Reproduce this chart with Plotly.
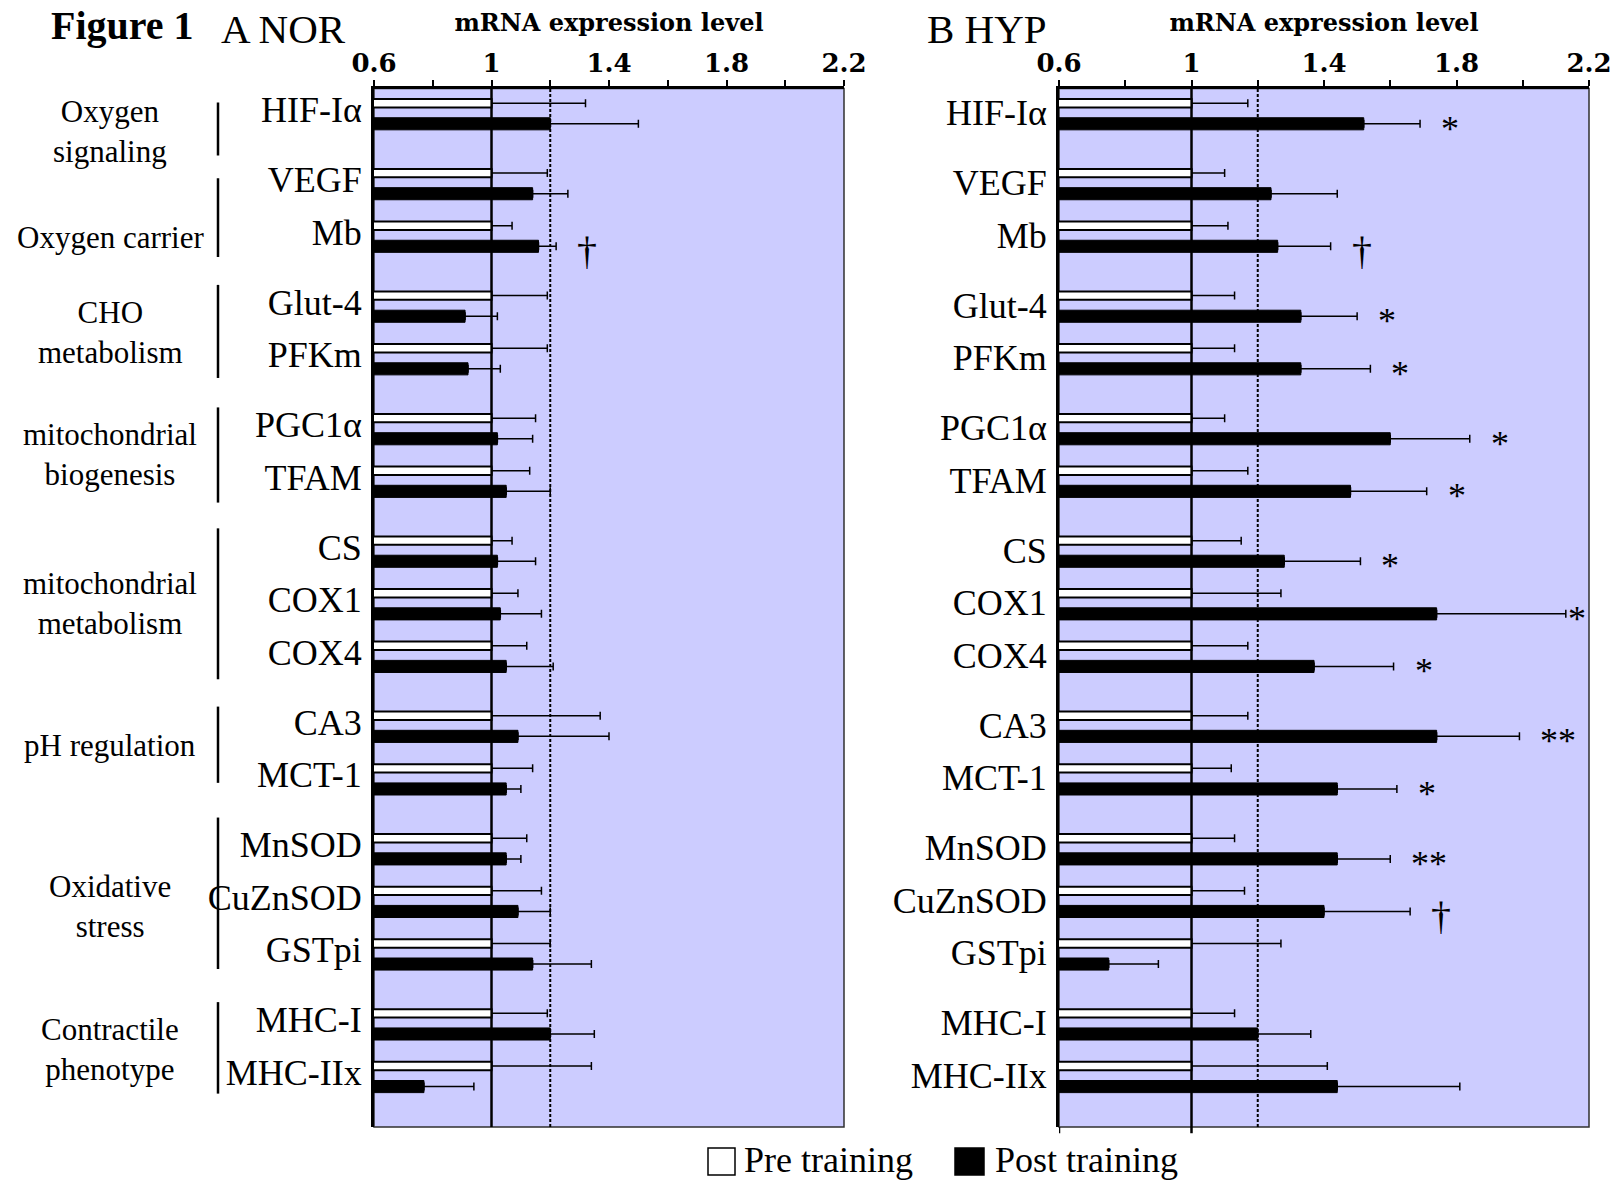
import plotly.graph_objects as go

# ---- data -------------------------------------------------------------
GENES = ["HIF-Iα", "VEGF", "Mb", "Glut-4", "PFKm", "PGC1α", "TFAM", "CS",
         "COX1", "COX4", "CA3", "MCT-1", "MnSOD", "CuZnSOD", "GSTpi",
         "MHC-I", "MHC-IIx"]
GROUP_NAMES = ["Oxygen<br>signaling", "Oxygen carrier", "CHO<br>metabolism",
               "mitochondrial<br>biogenesis", "mitochondrial<br>metabolism",
               "pH regulation", "Oxidative<br>stress", "Contractile<br>phenotype"]
GROUP_SIZES = [1, 2, 2, 2, 3, 2, 3, 2]

# Normoxic training (A NOR)
NOR_PRE = [1.00, 1.00, 1.00, 1.00, 1.00, 1.00, 1.00, 1.00, 1.00,
           1.00, 1.00, 1.00, 1.00, 1.00, 1.00, 1.00, 1.00]
NOR_PRE_SEM = [0.32, 0.19, 0.07, 0.19, 0.19, 0.15, 0.13, 0.07, 0.09,
               0.12, 0.37, 0.14, 0.12, 0.17, 0.20, 0.19, 0.34]
NOR_POST = [1.20, 1.14, 1.16, 0.91, 0.92, 1.02, 1.05, 1.02, 1.03,
            1.05, 1.09, 1.05, 1.05, 1.09, 1.14, 1.20, 0.77]
NOR_POST_SEM = [0.30, 0.12, 0.06, 0.11, 0.11, 0.12, 0.15, 0.13, 0.14,
                0.16, 0.31, 0.05, 0.05, 0.11, 0.20, 0.15, 0.17]
NOR_SIG = ["", "", "†", "", "", "", "", "", "", "", "", "", "", "", "", "", ""]

# Hypoxic training (B HYP)
HYP_PRE = [1.00, 1.00, 1.00, 1.00, 1.00, 1.00, 1.00, 1.00, 1.00,
           1.00, 1.00, 1.00, 1.00, 1.00, 1.00, 1.00, 1.00]
HYP_PRE_SEM = [0.17, 0.10, 0.11, 0.13, 0.13, 0.10, 0.17, 0.15, 0.27,
               0.17, 0.17, 0.12, 0.13, 0.16, 0.27, 0.13, 0.41]
HYP_POST = [1.52, 1.24, 1.26, 1.33, 1.33, 1.60, 1.48, 1.28, 1.74,
            1.37, 1.74, 1.44, 1.44, 1.40, 0.75, 1.20, 1.44]
HYP_POST_SEM = [0.17, 0.20, 0.16, 0.17, 0.21, 0.24, 0.23, 0.23, 0.39,
                0.24, 0.25, 0.18, 0.16, 0.26, 0.15, 0.16, 0.37]
HYP_SIG = ["*", "", "†", "*", "*", "*", "*", "*", "*", "*", "**", "*", "**",
           "†", "", "", ""]

X_TICKS = [0.6, 1.0, 1.4, 1.8, 2.2]
X_TICK_TEXT = ["0.6", "1", "1.4", "1.8", "2.2"]
X_RANGE = [0.6, 2.2]
REF_LINE = 1.0
DOT_LINE = 1.2

# ---- layout helpers ---------------------------------------------------
W, H = 1616, 1184
SERIF = "Liberation Serif, Times New Roman, serif"
BOLD_SERIF = "DejaVu Serif, serif"
LAVENDER = "#CCCCFF"

GROUP_GAP = 0.33          # extra space between gene groups (in slot units)
PAIR_OFF = 0.196          # offset of pre/post bars from the gene row

# bracket reach above the first / below the last row of each group, and a
# vertical nudge for each group caption (slot units)
BRACKET_REACH = [(0.21, 0.80), (0.10, 0.40), (0.40, 0.37), (0.40, 0.41),
                 (0.43, 0.44), (0.37, 0.08), (0.59, 0.29), (0.41, 0.33)]
CAPTION_NUDGE = [0.34, 0.53, 0.0, 0.0, 0.0, -0.13, 0.10, 0.0]

pos = []
group_rows = []
for g, n in enumerate(GROUP_SIZES):
    rows = []
    for _ in range(n):
        rows.append(len(pos) + GROUP_GAP * g)
        pos.append(rows[-1])
    group_rows.append(rows)

pre_y = [p - PAIR_OFF for p in pos]
post_y = [p + PAIR_OFF for p in pos]

Y_RANGE = [19.275, -0.475]
Y_DOMAIN = [1 - 1127 / H, 1 - 88.5 / H]
X_DOMAIN_A = [374 / W, 844 / W]
X_DOMAIN_B = [1059 / W, 1589 / W]

fig = go.Figure()


def add_panel(xa, ya, pre, pre_sem, post, post_sem):
    zeros = [0] * len(pre)
    fig.add_trace(go.Bar(
        x=pre, y=pre_y, orientation="h", width=0.16,
        marker=dict(color="white", line=dict(color="black", width=2)),
        error_x=dict(type="data", symmetric=False, array=pre_sem,
                     arrayminus=zeros, color="black", thickness=1.5, width=4),
        xaxis=xa, yaxis=ya, showlegend=False, hoverinfo="skip"))
    fig.add_trace(go.Bar(
        x=post, y=post_y, orientation="h", width=0.23,
        marker=dict(color="black", line=dict(color="black", width=1)),
        error_x=dict(type="data", symmetric=False, array=post_sem,
                     arrayminus=zeros, color="black", thickness=1.5, width=4),
        xaxis=xa, yaxis=ya, showlegend=False, hoverinfo="skip"))


add_panel("x", "y", NOR_PRE, NOR_PRE_SEM, NOR_POST, NOR_POST_SEM)
add_panel("x2", "y2", HYP_PRE, HYP_PRE_SEM, HYP_POST, HYP_POST_SEM)

xaxis_common = dict(
    range=X_RANGE, side="top", tickvals=X_TICKS, ticktext=X_TICK_TEXT,
    ticks="outside", ticklen=6, tickwidth=1.5, tickcolor="black",
    minor=dict(dtick=0.2, tick0=0.6, ticks="outside", ticklen=6,
               tickwidth=1.5, tickcolor="black"),
    showline=True, linewidth=3, linecolor="black", mirror=False,
    showgrid=False, zeroline=False, fixedrange=True, automargin=False,
    tickfont=dict(family=BOLD_SERIF, size=26, color="black", weight="bold"),
    ticklabelstandoff=-3,
    title=dict(text="mRNA expression level", standoff=10,
               font=dict(family=BOLD_SERIF, size=24, color="black",
                         weight="bold")),
)
yaxis_common = dict(
    range=Y_RANGE, domain=Y_DOMAIN, tickvals=pos, ticktext=GENES,
    ticks="", showline=True, linewidth=3, linecolor="black", mirror=False,
    showgrid=False, zeroline=False, fixedrange=True, automargin=False,
    tickfont=dict(family=SERIF, size=36, color="black"),
    ticklabelstandoff=2,
)

fig.update_layout(
    width=W, height=H, margin=dict(l=0, r=0, t=0, b=0),
    paper_bgcolor="white", plot_bgcolor=LAVENDER,
    barmode="overlay", showlegend=False,
    xaxis=dict(domain=X_DOMAIN_A, anchor="y", **xaxis_common),
    yaxis=dict(anchor="x", ticklabelshift=4, **yaxis_common),
    xaxis2=dict(domain=X_DOMAIN_B, anchor="y2", **xaxis_common),
    yaxis2=dict(anchor="x2", ticklabelshift=1, **yaxis_common),
)

shapes = []
annotations = []

for xa, ya in (("x", "y"), ("x2", "y2")):
    # thin frame on the right and bottom
    shapes.append(dict(type="rect", xref=f"{xa} domain", yref=f"{ya} domain",
                       x0=0, x1=1, y0=0, y1=1, layer="below",
                       line=dict(color="#303030", width=1.5)))
    shapes.append(dict(type="line", xref=xa, yref=f"{ya} domain",
                       x0=REF_LINE, x1=REF_LINE, y0=0, y1=1, layer="below",
                       line=dict(color="black", width=2.5)))
    shapes.append(dict(type="line", xref=xa, yref=f"{ya} domain",
                       x0=DOT_LINE, x1=DOT_LINE, y0=0, y1=1, layer="below",
                       line=dict(color="black", width=2, dash="3px,2px")))

# short stubs below the hypoxia panel
for xv in (X_RANGE[0], REF_LINE):
    shapes.append(dict(type="line", xref="x2", yref="y2 domain",
                       x0=xv, x1=xv, y0=-0.006, y1=0,
                       line=dict(color="black", width=2.5)))


def add_marks(xa, ya, post, post_sem, sig):
    for i, s in enumerate(sig):
        if not s:
            continue
        end = post[i] + post_sem[i]
        dagger = s == "†"
        ann = dict(xref=xa, yref=ya, y=post_y[i], text=s, showarrow=False,
                   yanchor="middle",
                   font=dict(family=SERIF, size=40 if dagger else 36,
                             color="black"),
                   yshift=-4 if dagger else -5)
        if end + 0.07 > X_RANGE[1] - 0.04:
            ann.update(x=X_RANGE[1], xanchor="right", xshift=-1)
        else:
            ann.update(x=end, xanchor="left", xshift=19)
        annotations.append(ann)


add_marks("x", "y", NOR_POST, NOR_POST_SEM, NOR_SIG)
add_marks("x2", "y2", HYP_POST, HYP_POST_SEM, HYP_SIG)

# gene-group brackets and captions beside the normoxia panel
for name, rows, (up, down), nudge in zip(GROUP_NAMES, group_rows,
                                          BRACKET_REACH, CAPTION_NUDGE):
    shapes.append(dict(type="line", xref="paper", yref="y",
                       x0=218 / W, x1=218 / W,
                       y0=rows[0] - up, y1=rows[-1] + down,
                       line=dict(color="black", width=2.5)))
    annotations.append(dict(xref="paper", yref="y", x=110 / W,
                            y=sum(rows) / len(rows) + nudge, text=name,
                            showarrow=False, xanchor="center",
                            yanchor="middle", align="center",
                            font=dict(family=SERIF, size=31, color="black")))

# headings
annotations.append(dict(xref="paper", yref="paper", x=49 / W, y=1 - 26 / H,
                        text="<b>Figure 1</b>", showarrow=False,
                        xanchor="left", yanchor="middle",
                        font=dict(family=SERIF, size=40, color="black")))
annotations.append(dict(xref="paper", yref="paper", x=219 / W, y=1 - 29 / H,
                        text="A NOR", showarrow=False,
                        xanchor="left", yanchor="middle",
                        font=dict(family=SERIF, size=41, color="black")))
annotations.append(dict(xref="paper", yref="paper", x=925 / W, y=1 - 29 / H,
                        text="B HYP", showarrow=False,
                        xanchor="left", yanchor="middle",
                        font=dict(family=SERIF, size=41, color="black")))

# legend
shapes.append(dict(type="rect", xref="paper", yref="paper",
                   x0=708 / W, x1=735 / W, y0=1 - 1175 / H, y1=1 - 1148 / H,
                   fillcolor="white", line=dict(color="black", width=1.5)))
shapes.append(dict(type="rect", xref="paper", yref="paper",
                   x0=955 / W, x1=984 / W, y0=1 - 1175 / H, y1=1 - 1148 / H,
                   fillcolor="black", line=dict(color="black", width=1.5)))
annotations.append(dict(xref="paper", yref="paper", x=742 / W, y=1 - 1160 / H,
                        text="Pre training", showarrow=False,
                        xanchor="left", yanchor="middle",
                        font=dict(family=SERIF, size=36, color="black")))
annotations.append(dict(xref="paper", yref="paper", x=993 / W, y=1 - 1160 / H,
                        text="Post training", showarrow=False,
                        xanchor="left", yanchor="middle",
                        font=dict(family=SERIF, size=36, color="black")))

fig.update_layout(shapes=shapes, annotations=annotations)
fig.write_html("out.html")
